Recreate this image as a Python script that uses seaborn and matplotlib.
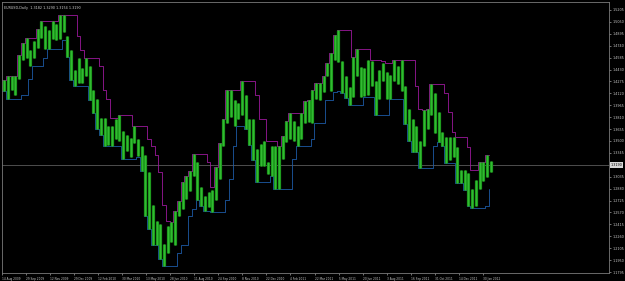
import numpy as np
import pandas as pd
import matplotlib
matplotlib.use("Agg")
import matplotlib.pyplot as plt
import seaborn as sns

# Weekly EURUSD ranges (week 0 = 14 Aug 2009 ... last = 14 Feb 2012)
week_high = [1.4300, 1.4340, 1.4350, 1.4340, 1.4620, 1.4770, 1.4840, 1.4690, 1.4800, 1.4960,
             1.5060, 1.5000, 1.4940, 1.5060, 1.5020, 1.5144, 1.5140, 1.4870, 1.4680, 1.4420,
             1.4580, 1.4450, 1.4580, 1.4480, 1.4170, 1.4050, 1.3800, 1.3800, 1.3690, 1.3700,
             1.3790, 1.3840, 1.3630, 1.3580, 1.3540, 1.3690, 1.3530, 1.3440, 1.3320, 1.3090,
             1.2670, 1.2460, 1.2420, 1.2160, 1.2390, 1.2440, 1.2590, 1.2720, 1.2970, 1.3050,
             1.3110, 1.3330, 1.3230, 1.2900, 1.2780, 1.2830, 1.2860, 1.3160, 1.3480, 1.3790,
             1.4160, 1.4160, 1.4030, 1.4000, 1.4282, 1.4100, 1.3790, 1.3790, 1.3400, 1.3460,
             1.3500, 1.3230, 1.3430, 1.3430, 1.3440, 1.3560, 1.3760, 1.3860, 1.3760, 1.3700,
             1.3860, 1.4020, 1.4030, 1.4170, 1.4250, 1.4250, 1.4350, 1.4520, 1.4650, 1.4880,
             1.4940, 1.4540, 1.4350, 1.4200, 1.4590, 1.4700, 1.4460, 1.4450, 1.4560, 1.4540,
             1.4280, 1.4430, 1.4520, 1.4400, 1.4360, 1.4550, 1.4470, 1.4550, 1.4210, 1.3920,
             1.3790, 1.3700, 1.3500, 1.3900, 1.3920, 1.4247, 1.4130, 1.3880, 1.3620, 1.3550,
             1.3550, 1.3550, 1.3420, 1.3120, 1.3120, 1.3080, 1.2880, 1.2990, 1.3230, 1.3230,
             1.3320, 1.3240]
week_low = [1.4150, 1.4050, 1.4170, 1.4100, 1.4310, 1.4560, 1.4580, 1.4480, 1.4580, 1.4710,
            1.4840, 1.4700, 1.4700, 1.4830, 1.4820, 1.4830, 1.4920, 1.4590, 1.4300, 1.4210,
            1.4250, 1.4260, 1.4350, 1.4030, 1.3860, 1.3660, 1.3580, 1.3440, 1.3450, 1.3430,
            1.3530, 1.3500, 1.3260, 1.3370, 1.3290, 1.3480, 1.3310, 1.3110, 1.2520, 1.2350,
            1.2140, 1.2150, 1.1960, 1.1876, 1.2040, 1.2180, 1.2150, 1.2520, 1.2610, 1.2750,
            1.2850, 1.3050, 1.2730, 1.2650, 1.2590, 1.2640, 1.2570, 1.2730, 1.3000, 1.3430,
            1.3740, 1.3810, 1.3700, 1.3780, 1.3840, 1.3660, 1.3450, 1.3250, 1.2970, 1.3170,
            1.3170, 1.3070, 1.3040, 1.2880, 1.2870, 1.3270, 1.3490, 1.3530, 1.3500, 1.3430,
            1.3530, 1.3740, 1.3750, 1.3730, 1.4050, 1.4030, 1.4140, 1.4350, 1.4150, 1.4550,
            1.4530, 1.4130, 1.4060, 1.3970, 1.4070, 1.4350, 1.4070, 1.4080, 1.4100, 1.4210,
            1.3840, 1.4050, 1.4280, 1.4050, 1.4050, 1.4280, 1.4240, 1.4150, 1.3720, 1.3500,
            1.3360, 1.3360, 1.3146, 1.3440, 1.3650, 1.3840, 1.3610, 1.3490, 1.3430, 1.3210,
            1.3250, 1.3290, 1.2950, 1.2950, 1.2860, 1.2660, 1.2624, 1.2650, 1.2880, 1.2980,
            1.3030, 1.3100]

price_ticks = [1.1795, 1.1950, 1.2105, 1.2260, 1.2415, 1.2570, 1.2725, 1.2880, 1.3035,
               1.3345, 1.3500, 1.3655, 1.3810, 1.3965, 1.4120, 1.4275, 1.4430, 1.4585,
               1.4740, 1.4895, 1.5050, 1.5205]
current_price = 1.3190
date_labels = ["14 Aug 2009", "29 Sep 2009", "12 Nov 2009", "29 Dec 2009", "12 Feb 2010",
               "30 Mar 2010", "13 May 2010", "28 Jun 2010", "11 Aug 2010", "24 Sep 2010",
               "8 Nov 2010", "22 Dec 2010", "4 Feb 2011", "22 Mar 2011", "5 May 2011",
               "20 Jun 2011", "3 Aug 2011", "16 Sep 2011", "31 Oct 2011", "14 Dec 2011",
               "30 Jan 2012"]
title_text = "EURUSD,Daily  1.3182 1.3290 1.3154 1.3190"

# ---------------------------------------------------------------
bars_per_week = 4.95
bars_per_label = 32

df = pd.DataFrame({"high": week_high, "low": week_low})
df["bar"] = np.arange(len(df)) * bars_per_week
df["upper"] = df["high"].rolling(4, min_periods=1).max()
df["lower"] = df["low"].rolling(4, min_periods=1).min()

sns.set_style("dark")
plt.rcParams["font.family"] = ["DejaVu Sans"]

fig = plt.figure(figsize=(6.25, 2.81), dpi=100, facecolor="black")
ax = fig.add_axes([2 / 625, 8 / 281, 607 / 625, 271 / 281])
ax.set_facecolor("black")

# Donchian style channel (drawn beneath the bars)
sns.lineplot(data=df, x="bar", y="upper", ax=ax, color="#9c189c", lw=0.6,
             drawstyle="steps-post", estimator=None, zorder=2)
sns.lineplot(data=df, x="bar", y="lower", ax=ax, color="#1d5aa6", lw=0.6,
             drawstyle="steps-post", estimator=None, zorder=2)

# price bars
ax.vlines(df["bar"] + bars_per_week / 2, df["low"], df["high"], color="#1e9c1e",
          lw=2.3, zorder=3)
ax.vlines(df["bar"] + bars_per_week / 2, df["low"], df["high"], color="#3cc83c",
          lw=0.5, zorder=3)

# current price line
ax.axhline(current_price, color="#5a5a5a", lw=0.6, zorder=1)

ax.set_xlim(-0.5, 808.5)
ax.set_ylim(1.1782, 1.5309)

ax.set_yticks(price_ticks)
ax.set_yticklabels([f"{p:.4f}" for p in price_ticks])
ax.yaxis.tick_right()
ax.tick_params(axis="y", which="both", right=True, left=False, labelright=True,
               labelleft=False, labelsize=2.4, colors="#c8c8c8", length=1.5,
               width=0.4, pad=1)

xt = np.arange(len(date_labels)) * bars_per_label
ax.set_xticks(xt)
ax.set_xticklabels(date_labels)
for lab in ax.get_xticklabels():
    lab.set_horizontalalignment("left")
ax.tick_params(axis="x", bottom=True, labelsize=2.1, colors="#c8c8c8", length=1.5,
               width=0.4, pad=1.2)

ax.text(1.003, current_price, f"{current_price:.4f}", transform=ax.get_yaxis_transform(),
        ha="left", va="center", fontsize=2.4, color="black",
        bbox=dict(facecolor="#d8d8d8", edgecolor="none", pad=0.6), clip_on=False)

ax.text(0.004, 0.985, title_text, transform=ax.transAxes, ha="left", va="top",
        fontsize=2.4, color="#d0d0d0")

ax.set_xlabel("")
ax.set_ylabel("")
ax.grid(False)
for s in ax.spines.values():
    s.set_color("#7a7a7a")
    s.set_linewidth(0.6)
    s.set_visible(True)

fig.savefig("out.png", dpi=100, facecolor="black")
